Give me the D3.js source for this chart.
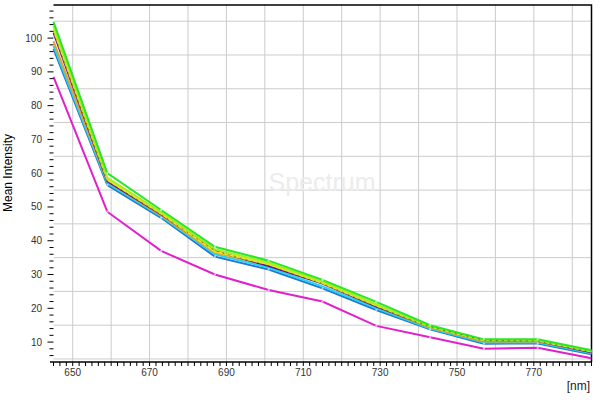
<!DOCTYPE html>
<html>
<head>
<meta charset="utf-8">
<script src="https://cdn.jsdelivr.net/npm/d3@7"></script>
<style>
  body { margin: 0; background: #fff; }
  text { font-family: "Liberation Sans", Arial, sans-serif; }
</style>
</head>
<body>
<div class="canvas"></div>
<script>
const dims = { width: 600, height: 400 };
const plot = { left: 53.5, right: 591.5, top: 5, bottom: 362 };

// wavelengths (nm)
const wavelengths = [645, 659, 673, 687, 701, 715, 729, 743, 757, 771, 785];

// mean intensity per channel
const magenta = [88.5, 48.6, 37.0, 30.0, 25.4, 22.0, 14.8, 11.4, 8.0, 8.3, 5.2];
const blue    = [96.8, 56.5, 46.8, 35.3, 31.5, 25.9, 19.5, 13.8, 9.5, 9.6, 6.4];
const cyan    = [97.7, 57.0, 47.2, 36.0, 32.0, 26.5, 20.0, 14.0, 9.9, 9.9, 6.7];
const orange  = [99.0, 57.5, 47.5, 36.5, 32.8, 27.5, 20.5, 14.3, 10.2, 10.2, 7.0];
const yellow  = [102.5, 58.0, 48.0, 36.8, 33.0, 27.5, 20.8, 14.5, 10.5, 10.4, 7.2];
const purple  = [101.6, 57.6, 47.8, 37.0, 32.5, 27.3, 20.5, 14.5, 10.5, 10.3, 7.0];
const lime    = [103.6, 58.6, 48.5, 37.5, 33.5, 28.0, 21.2, 14.6, 10.6, 10.6, 7.3];
const green   = [104.8, 60.0, 49.1, 38.2, 34.1, 28.4, 21.9, 15.0, 10.8, 10.8, 7.6];

const yTicks = [10, 20, 30, 40, 50, 60, 70, 80, 90, 100];
const xTicks = [650, 670, 690, 710, 730, 750, 770];

const series = [
  { name: 'magenta', values: magenta, colour: '#e020cc' },
  { name: 'blue', values: blue, colour: '#1f78d6' },
  { name: 'cyan', values: cyan, colour: '#22d4ee' },
  { name: 'orange', values: orange, colour: '#f0a020' },
  { name: 'purple', values: purple, colour: '#5a1e9c' },
  { name: 'yellow', values: yellow, colour: '#e6e61e' },
  { name: 'lime', values: lime, colour: '#a8ee1e' },
  { name: 'green', values: green, colour: '#28e628' }
];

const svg = d3.select('.canvas').append('svg')
  .attr('width', dims.width)
  .attr('height', dims.height);

const x = d3.scaleLinear()
  .domain([645, 785])
  .range([plot.left, plot.right]);

const y = d3.scaleLinear()
  .domain([4.1, 109.8])
  .range([plot.bottom, plot.top]);

// grid
const grid = svg.append('g');
grid.selectAll('line.v')
  .data(d3.range(650, 781, 10))
  .enter().append('line')
  .attr('x1', d => x(d)).attr('x2', d => x(d))
  .attr('y1', plot.top).attr('y2', plot.bottom)
  .attr('stroke', '#cccccc');
grid.selectAll('line.h')
  .data(d3.range(5, 106, 10))
  .enter().append('line')
  .attr('x1', plot.left).attr('x2', plot.right)
  .attr('y1', d => y(d)).attr('y2', d => y(d))
  .attr('stroke', '#cccccc');

// watermark title
svg.append('text')
  .attr('x', 322).attr('y', 191)
  .attr('text-anchor', 'middle')
  .attr('font-size', 25)
  .attr('fill', '#ececec')
  .text('Spectrum');

// frame top + right
svg.append('path')
  .attr('d', `M${plot.left},${plot.top}H${plot.right}V${plot.bottom}`)
  .attr('fill', 'none')
  .attr('stroke', '#000')
  .attr('stroke-width', 1.5);

// lines
const line = d3.line()
  .x((d, i) => x(wavelengths[i]))
  .y(d => y(d));

const lines = svg.append('g');
lines.selectAll('path')
  .data(series)
  .enter().append('path')
  .attr('d', d => line(d.values))
  .attr('fill', 'none')
  .attr('stroke', d => d.colour)
  .attr('stroke-width', 2);

// faint dark dashes along the purple trace
lines.append('path')
  .attr('d', line(purple))
  .attr('fill', 'none')
  .attr('stroke', '#222')
  .attr('stroke-width', 0.8)
  .attr('stroke-dasharray', '2,4')
  .attr('opacity', 0.6);

// small white point markers on a few traces
lines.selectAll('g.pts')
  .data(series.filter(s => ['green', 'blue', 'magenta'].includes(s.name)))
  .enter().append('g')
  .selectAll('rect')
  .data(d => d.values.slice(1, -1))
  .enter().append('rect')
  .attr('x', (d, i) => x(wavelengths[i + 1]) - 1)
  .attr('y', d => y(d) - 1)
  .attr('width', 2).attr('height', 2)
  .attr('fill', '#fff')
  .attr('opacity', 0.6);

// x axis
const xAxis = svg.append('g');
xAxis.append('line')
  .attr('x1', 50).attr('x2', plot.right)
  .attr('y1', plot.bottom).attr('y2', plot.bottom)
  .attr('stroke', '#000').attr('stroke-width', 1.5);
xAxis.selectAll('line.t')
  .data(d3.range(0, 85).map(i => 645 + i * 10 / 6))
  .enter().append('line')
  .attr('x1', d => x(d)).attr('x2', d => x(d))
  .attr('y1', plot.bottom).attr('y2', plot.bottom + 4)
  .attr('stroke', '#000');
xAxis.selectAll('text')
  .data(xTicks)
  .enter().append('text')
  .attr('x', d => x(d))
  .attr('y', 376)
  .attr('text-anchor', 'middle')
  .attr('font-size', 10)
  .attr('fill', '#333')
  .text(d => d);

// y axis
const yAxis = svg.append('g');
yAxis.selectAll('line')
  .data(d3.range(6, 109, 2))
  .enter().append('line')
  .attr('x1', d => d % 10 === 0 ? plot.left - 6 : plot.left - 4)
  .attr('x2', plot.left)
  .attr('y1', d => y(d)).attr('y2', d => y(d))
  .attr('stroke', '#000');
yAxis.selectAll('text')
  .data(yTicks)
  .enter().append('text')
  .attr('x', 42)
  .attr('y', d => y(d) + 3.5)
  .attr('text-anchor', 'end')
  .attr('font-size', 10)
  .attr('fill', '#333')
  .text(d => d);

// axis titles
svg.append('text')
  .attr('transform', 'translate(12,173) rotate(-90)')
  .attr('text-anchor', 'middle')
  .attr('font-size', 12)
  .attr('fill', '#000')
  .text('Mean Intensity');

svg.append('text')
  .attr('x', 590).attr('y', 390)
  .attr('text-anchor', 'end')
  .attr('font-size', 12)
  .attr('fill', '#222')
  .text('[nm]');
</script>
</body>
</html>
